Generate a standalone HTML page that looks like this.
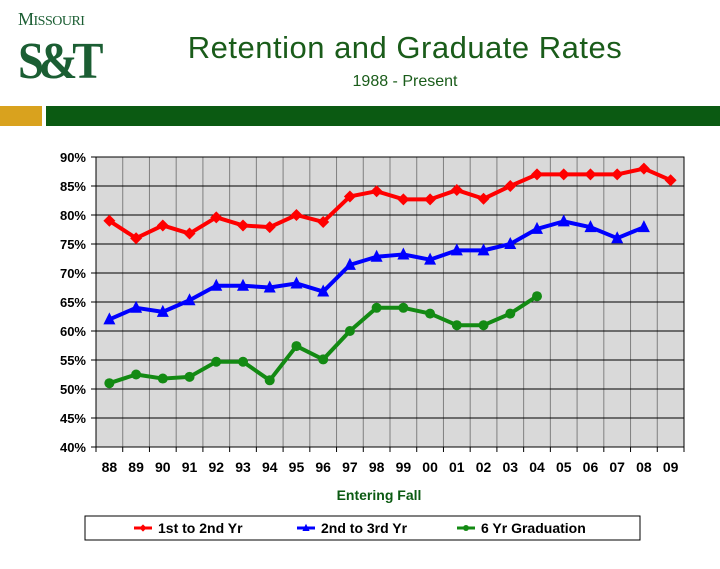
<!DOCTYPE html>
<html><head><meta charset="utf-8"><style>
body{margin:0;width:720px;height:569px;background:#fff;overflow:hidden;font-family:"Liberation Sans",sans-serif;position:relative}
.abs{position:absolute}
</style></head><body>
<div class="abs" style="left:18px;top:10px;width:95px;height:80px;color:#1b5e33">
 <div style="font-family:'Liberation Serif',serif;font-size:18px;letter-spacing:-0.5px;line-height:18px">M<span style="font-size:14px">ISSOURI</span></div>
 <div style="font-family:'Liberation Serif',serif;font-weight:bold;font-size:52px;line-height:54px;letter-spacing:-6px;margin-top:4px;transform:scaleX(0.9);transform-origin:left">S&amp;T</div>
</div>
<div class="abs" style="left:110px;width:590px;top:30px;text-align:center;font-size:31px;color:#1a5c1a;letter-spacing:0.5px">Retention and Graduate Rates</div>
<div class="abs" style="left:110px;width:590px;top:73px;text-align:center;font-size:16px;color:#1a5c1a">1988 - Present</div>
<div class="abs" style="left:0;top:106px;width:42px;height:20px;background:#d9a21e"></div>
<div class="abs" style="left:46px;top:106px;width:674px;height:20px;background:#0b5a12"></div>
<svg class="abs" style="left:0;top:0" width="720" height="569" id="chart"></svg>
<script>
const categories=["88","89","90","91","92","93","94","95","96","97","98","99","00","01","02","03","04","05","06","07","08","09"];
const yTicks=[40,45,50,55,60,65,70,75,80,85,90];
const series1=[79,76,78.2,76.8,79.6,78.2,77.9,80,78.8,83.2,84.1,82.7,82.7,84.3,82.8,85,87,87,87,87,88,86];
const series2=[62,64,63.3,65.3,67.8,67.8,67.5,68.2,66.8,71.4,72.8,73.2,72.3,73.9,73.9,75,77.6,78.9,77.9,76,77.9,null];
const series3=[51,52.5,51.8,52.1,54.7,54.7,51.5,57.4,55.1,60,64,64,63,61,61,63,66,null,null,null,null,null];
const NS="http://www.w3.org/2000/svg";
const svg=document.getElementById('chart');
const L=96,R=684,T=157,B=447;
const bw=(R-L)/categories.length;
const x=i=>L+bw*(i+0.5);
const y=v=>B-(v-40)/50*(B-T);
function mk(tag,attrs,parent){const e=document.createElementNS(NS,tag);for(const k in attrs)e.setAttribute(k,attrs[k]);(parent||svg).appendChild(e);return e;}
let e=mk('rect',{x:L,y:T,width:R-L,height:B-T,fill:'#d9d9d9'});


for(let i=1;i<categories.length;i++){
 e=mk('line',{x1:L+bw*i,x2:L+bw*i,y1:T,y2:B,stroke:'#808080','stroke-width':1});
 
 
}
for(let i=0;i<=categories.length;i++){
 e=mk('line',{x1:L+bw*i,x2:L+bw*i,y1:B,y2:B+5,stroke:'#000','stroke-width':1});
 
 
}
yTicks.forEach(t=>{
 e=mk('line',{x1:L-5,x2:R,y1:y(t),y2:y(t),stroke:'#000','stroke-width':1});
 
 
 e=mk('text',{x:L-10,y:y(t)+5,'text-anchor':'end','font-size':13,'font-weight':'bold','font-family':'Liberation Sans, sans-serif'});
 e.textContent=t+'%';
 
 
});
e=mk('rect',{x:L,y:T,width:R-L,height:B-T,fill:'none',stroke:'#000'});


categories.forEach((c,i)=>{
 e=mk('text',{x:x(i),y:472,'text-anchor':'middle','font-size':14,'font-weight':'bold','font-family':'Liberation Sans, sans-serif'});
 e.textContent=c;
 
 
});
e=mk('text',{x:379,y:500,'text-anchor':'middle','font-size':14,'font-weight':'bold',fill:'#0b5a12','font-family':'Liberation Sans, sans-serif'});
e.textContent='Entering Fall';


function marker(shape,cx,cy,col,g,s){
 s=s||1;
 if(shape==='d')return mk('polygon',{points:`${cx},${cy-6*s} ${cx+6*s},${cy} ${cx},${cy+6*s} ${cx-6*s},${cy}`,fill:col},g);
 if(shape==='t')return mk('polygon',{points:`${cx},${cy-7*s} ${cx+6*s},${cy+5*s} ${cx-6*s},${cy+5*s}`,fill:col},g);
 return mk('circle',{cx:cx,cy:cy,r:5*s,fill:col},g);
}
function drawSeries(data,col,shape,name){
 const g=mk('g',{});
 
 
 const pts=[];data.forEach((v,i)=>{if(v!=null)pts.push(x(i)+','+y(v));});
 mk('polyline',{points:pts.join(' '),fill:'none',stroke:col,'stroke-width':4,'stroke-linejoin':'round'},g);
 data.forEach((v,i)=>{if(v!=null){const m=marker(shape,x(i),y(v),col,g);
 
 }});
}
drawSeries(series3,'#138a13','c','series-6yr-graduation');
drawSeries(series2,'#0000ff','t','series-2nd-to-3rd');
drawSeries(series1,'#ff0000','d','series-1st-to-2nd');
e=mk('rect',{x:85,y:516,width:555,height:24,fill:'#fff',stroke:'#000'});


[['1st to 2nd Yr','#ff0000','d',134],['2nd to 3rd Yr','#0000ff','t',297],['6 Yr Graduation','#138a13','c',457]].forEach(l=>{
 const g=mk('g',{});
 
 
 mk('line',{x1:l[3],x2:l[3]+18,y1:528,y2:528,stroke:l[1],'stroke-width':3},g);
 marker(l[2],l[3]+9,528,l[1],g,0.6);
 const t=mk('text',{x:l[3]+24,y:533,'font-size':14,'font-weight':'bold','font-family':'Liberation Sans, sans-serif'},g);t.textContent=l[0];
});
</script>
</body></html>
